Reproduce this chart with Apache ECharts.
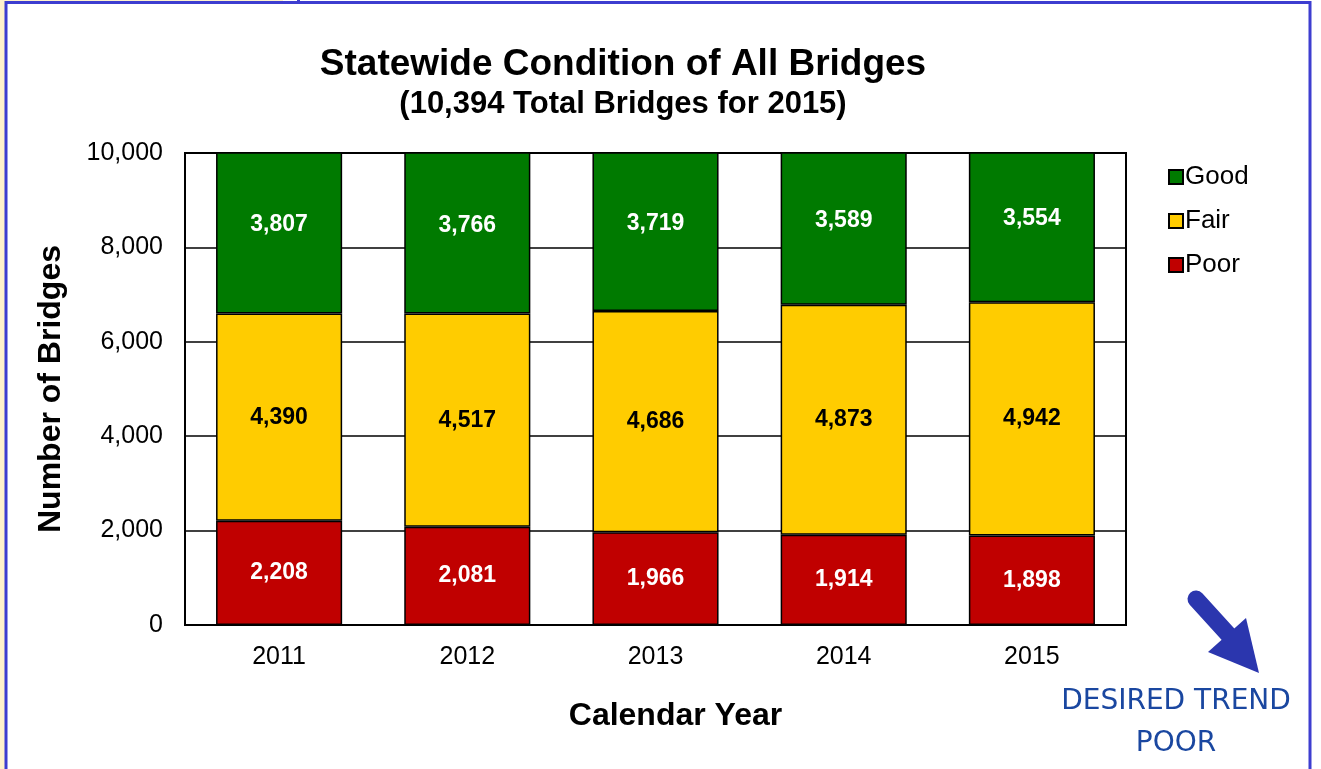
<!DOCTYPE html>
<html>
<head>
<meta charset="utf-8">
<script src="https://cdn.jsdelivr.net/npm/echarts@6/dist/echarts.min.js"></script>
<style>
  html, body { margin: 0; padding: 0; background: #fff; }
  #chart { width: 1321px; height: 769px; }
</style>
</head>
<body>
<div id="chart"></div>
<script>
// values
const years = ['2011', '2012', '2013', '2014', '2015']
const poor = [2208, 2081, 1966, 1914, 1898]
const fair = [4390, 4517, 4686, 4873, 4942]
const good = [3807, 3766, 3719, 3589, 3554]
const yMax = 10000
const yStep = 2000

const colors = { good: '#007A00', fair: '#FFCC00', poor: '#C00000' }
const font = '"Liberation Sans", Arial, sans-serif'

// plot box in px
const grid = { left: 185, right: 195, top: 153, bottom: 144 }
const plotH = 769 - grid.top - grid.bottom

const fmt = (v) => v.toLocaleString('en-US')

// green bars run past the top and get clipped, label stays at the middle of the full bar
const goodData = good.map((v, i) => {
  const base = poor[i] + fair[i]
  const fullMid = base + v / 2
  const clipMid = (base + Math.min(yMax, base + v)) / 2
  return {
    value: v,
    label: { offset: [0, -(fullMid - clipMid) * plotH / yMax + 1] }
  }
})

const barLabel = (color) => ({
  show: true,
  position: 'inside',
  color: color,
  fontFamily: font,
  fontWeight: 'bold',
  fontSize: 23,
  formatter: (p) => fmt(p.value)
})

const barItem = (color) => ({ color: color, borderColor: '#000', borderWidth: 1.5 })

const chart = echarts.init(document.getElementById('chart'))

const option = {
  backgroundColor: '#fff',
  animation: false,
  title: [
    {
      text: 'Statewide Condition of All Bridges',
      left: 618,
      top: 41,
      textAlign: 'center',
      textStyle: { fontFamily: font, fontWeight: 'bold', fontSize: 37, color: '#000' }
    },
    {
      text: '(10,394 Total Bridges for 2015)',
      left: 618,
      top: 84,
      textAlign: 'center',
      textStyle: { fontFamily: font, fontWeight: 'bold', fontSize: 31, color: '#000' }
    }
  ],
  legend: {
    data: ['Good', 'Fair', 'Poor'],
    orient: 'vertical',
    left: 1163,
    top: 157,
    icon: 'rect',
    itemWidth: 14,
    itemHeight: 14,
    itemGap: 14,
    textStyle: { fontFamily: font, fontSize: 26, color: '#000', lineHeight: 30, padding: [0, 0, 0, -3] }
  },
  grid: {
    left: grid.left,
    right: grid.right,
    top: grid.top,
    bottom: grid.bottom,
    show: true,
    borderColor: '#000',
    borderWidth: 2,
    backgroundColor: 'transparent'
  },
  xAxis: {
    type: 'category',
    data: years,
    name: 'Calendar Year',
    nameLocation: 'middle',
    nameGap: 75,
    nameTextStyle: { fontFamily: font, fontWeight: 'bold', fontSize: 32, color: '#000', padding: [0, 0, 0, 40] },
    axisLine: { show: true, lineStyle: { color: '#000', width: 2 } },
    axisTick: { show: false },
    axisLabel: { fontFamily: font, fontSize: 25, color: '#000', margin: 20 }
  },
  yAxis: {
    type: 'value',
    min: 0,
    max: yMax,
    interval: yStep,
    name: 'Number of Bridges',
    nameLocation: 'middle',
    nameGap: 118,
    nameTextStyle: { fontFamily: font, fontWeight: 'bold', fontSize: 32, color: '#000' },
    axisLine: { show: true, lineStyle: { color: '#000', width: 2 } },
    axisTick: { show: false },
    splitLine: { show: true, lineStyle: { color: '#000', width: 1.5 } },
    axisLabel: { fontFamily: font, fontSize: 25, color: '#000', margin: 22, formatter: (v) => fmt(v) }
  },
  series: [
    {
      name: 'Poor',
      type: 'bar',
      stack: 'all',
      barCategoryGap: '33%',
      data: poor,
      itemStyle: barItem(colors.poor),
      label: barLabel('#fff')
    },
    {
      name: 'Fair',
      type: 'bar',
      stack: 'all',
      barCategoryGap: '33%',
      data: fair,
      itemStyle: barItem(colors.fair),
      label: barLabel('#000')
    },
    {
      name: 'Good',
      type: 'bar',
      stack: 'all',
      barCategoryGap: '33%',
      clip: true,
      data: goodData,
      itemStyle: barItem(colors.good),
      label: barLabel('#fff')
    }
  ],
  graphic: [
    // page frame
    { type: 'rect', shape: { x: 0, y: 0, width: 5, height: 769 }, style: { fill: '#FFF2CC' }, silent: true },
    { type: 'rect', shape: { x: 0, y: 0, width: 283, height: 2 }, style: { fill: '#FFF2CC' }, silent: true },
    { type: 'rect', shape: { x: 6, y: 2.5, width: 1304, height: 800 }, style: { fill: null, stroke: '#3D3DD0', lineWidth: 3 }, silent: true },
    { type: 'rect', shape: { x: 297, y: 0, width: 3, height: 3 }, style: { fill: '#3D3DD0' }, silent: true },
    // desired trend arrow
    {
      type: 'line',
      shape: { x1: 1196, y1: 599, x2: 1236, y2: 643 },
      style: { stroke: '#2B36AE', lineWidth: 17, lineCap: 'round' },
      silent: true
    },
    {
      type: 'polygon',
      shape: { points: [[1208, 652], [1246, 618], [1259, 673]] },
      style: { fill: '#2B36AE' },
      silent: true
    },
    {
      type: 'text',
      x: 1176,
      y: 702,
      style: {
        text: 'DESIRED TREND',
        fill: '#1A47A0',
        font: 'normal 28px "DejaVu Sans", sans-serif',
        textAlign: 'center',
        textVerticalAlign: 'middle'
      },
      silent: true
    },
    {
      type: 'text',
      x: 1176,
      y: 744,
      style: {
        text: 'POOR',
        fill: '#1A47A0',
        font: 'normal 28px "DejaVu Sans", sans-serif',
        textAlign: 'center',
        textVerticalAlign: 'middle'
      },
      silent: true
    }
  ]
}

chart.setOption(option)
</script>
</body>
</html>
